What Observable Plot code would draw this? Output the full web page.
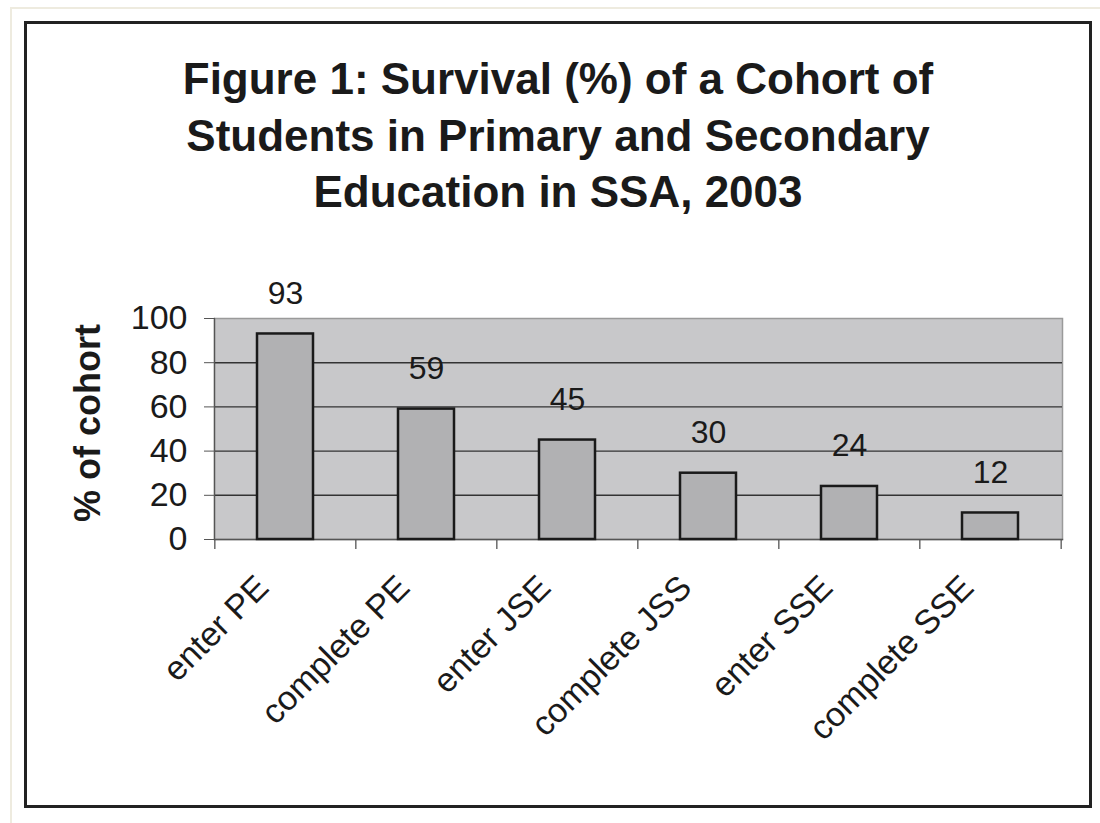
<!DOCTYPE html>
<html><head><meta charset="utf-8">
<script src="https://cdn.jsdelivr.net/npm/d3@7"></script>
<script src="https://cdn.jsdelivr.net/npm/@observablehq/plot@0.6"></script>
<style>
body{margin:0;background:#fff;width:1100px;height:823px;position:relative;overflow:hidden;font-family:"Liberation Sans",Arial,sans-serif;}
#outer{position:absolute;left:10px;top:7px;right:0;bottom:0;border-left:2px solid #eeebdf;border-top:2px solid #eeebdf;}
#box{position:absolute;left:24px;top:21px;width:1062px;height:781px;border:3px solid #222;}
#title{position:absolute;left:24px;width:1068px;top:51px;text-align:center;font-weight:bold;font-size:44px;line-height:56.5px;color:#1a1a1a;}
#chart{position:absolute;left:0;top:240px;}
</style></head>
<body>
<div id="outer"></div>
<div id="box"></div>
<div id="title">Figure 1: Survival (%) of a Cohort of<br>Students in Primary and Secondary<br>Education in SSA, 2003</div>
<div id="chart"></div>
<script>
const categories = ["enter PE","complete PE","enter JSE","complete JSS","enter SSE","complete SSE"];
const values = [93,59,45,30,24,12];
const yTicks = [0,20,40,60,80,100];
const yLabel = "% of cohort";

const data = categories.map((c,i)=>({stage:c, value:values[i]}));
const W=1100,H=560,ml=214,mr=38,mt=78,mb=261;
const step=(W-ml-mr)/categories.length;
const plot = Plot.plot({
  width:W,height:H,marginLeft:ml,marginRight:mr,marginTop:mt,marginBottom:mb,
  style:{fontFamily:"Liberation Sans, Arial, sans-serif", color:"#1a1a1a", background:"transparent", overflow:"visible"},
  x:{domain:categories, paddingInner:0.6, paddingOuter:0.3, axis:null},
  y:{domain:[0,100], axis:null},
  marks:[
    Plot.frame({fill:"#c8c8ca", stroke:"#9a9a9a", strokeWidth:1.5}),
    Plot.gridY(yTicks.filter(t=>t>0&&t<100), {stroke:"#333", strokeOpacity:1, strokeWidth:1.4}),
    Plot.frame({anchor:"left", stroke:"#555", strokeWidth:1.3}),
    Plot.frame({anchor:"bottom", stroke:"#555", strokeWidth:1.3}),
    Plot.axisY({ticks:yTicks, tickSize:10, tickPadding:17, fontSize:34, label:null, stroke:"#555", fill:"#1a1a1a"}),
    Plot.barY(data,{x:"stage",y:"value",fill:"#b1b1b3",stroke:"#1a1a1a",strokeWidth:2.5}),
    Plot.text(data,{x:"stage",y:"value",text:d=>String(d.value),dy:-30,lineAnchor:"bottom",fontSize:32,fill:"#1a1a1a"}),
    Plot.ruleX(categories,{x:d=>d, dx:-step/2, insetTop:H-mt-mb, insetBottom:-10, stroke:"#555", strokeWidth:1.3}),
    Plot.ruleX([categories[categories.length-1]],{x:d=>d, dx:step/2, insetTop:H-mt-mb, insetBottom:-10, stroke:"#555", strokeWidth:1.3}),
    Plot.text(categories,{x:d=>d, frameAnchor:"bottom", rotate:-45, textAnchor:"end", lineAnchor:"top", dx:-32, dy:33, fontSize:34, fill:"#1a1a1a"}),
    Plot.text([yLabel],{frameAnchor:"left", rotate:-90, textAnchor:"middle", dx:-126, dy:-6, fontWeight:"bold", fontSize:36, fill:"#1a1a1a"})
  ]
});
document.getElementById("chart").appendChild(plot);
</script>
</body></html>
